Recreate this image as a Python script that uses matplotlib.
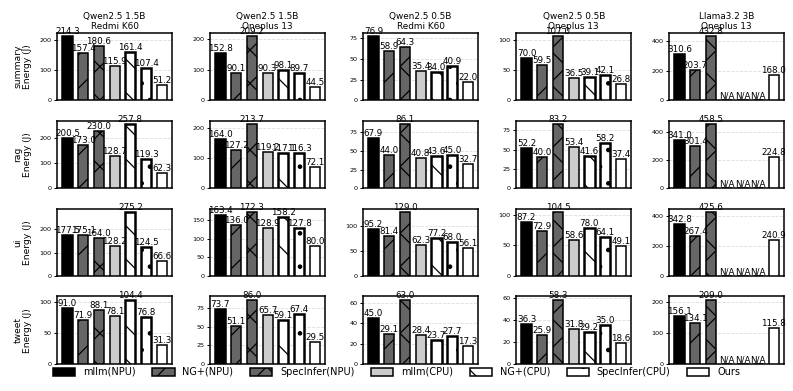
import matplotlib
matplotlib.use("Agg")
import matplotlib.pyplot as plt
import numpy as np
from matplotlib.patches import Patch
from matplotlib.ticker import MaxNLocator

methods = ["mllm(NPU)", "NG+(NPU)", "SpecInfer(NPU)", "mllm(CPU)", "NG+(CPU)", "SpecInfer(CPU)", "Ours"]
colors = ["#000000", "#666666", "#666666", "#cccccc", "#ffffff", "#ffffff", "#ffffff"]
hatches = ["", "/", "x", "", "\\", ".", ""]

col_titles = ["Qwen2.5 1.5B\nRedmi K60", "Qwen2.5 1.5B\nOneplus 13", "Qwen2.5 0.5B\nRedmi K60",
              "Qwen2.5 0.5B\nOneplus 13", "Llama3.2 3B\nOneplus 13"]
row_names = ["summary", "rag", "ui", "tweet"]

NA = None
summary = [
    [214.3, 157.4, 180.6, 115.9, 161.4, 107.4, 51.2],
    [152.8, 90.1, 209.2, 90.3, 98.1, 89.7, 44.5],
    [76.9, 58.9, 64.3, 35.4, 34.0, 40.9, 22.0],
    [70.0, 59.5, 107.0, 36.5, 39.1, 42.1, 26.8],
    [310.6, 203.7, 432.8, NA, NA, NA, 168.0],
]
rag = [
    [200.5, 173.0, 230.0, 128.7, 257.8, 119.3, 62.3],
    [164.0, 127.2, 213.7, 119.2, 117.1, 116.3, 72.1],
    [67.9, 44.0, 86.1, 40.8, 43.6, 45.0, 32.7],
    [52.2, 40.0, 83.2, 53.4, 41.6, 58.2, 37.4],
    [341.0, 301.4, 458.5, NA, NA, NA, 224.8],
]
ui = [
    [177.5, 175.1, 164.0, 128.2, 275.2, 124.5, 66.6],
    [163.4, 136.0, 172.3, 128.9, 158.2, 127.8, 80.0],
    [95.2, 81.4, 129.0, 62.3, 77.2, 68.0, 56.1],
    [87.2, 72.9, 104.5, 58.6, 78.0, 64.1, 49.1],
    [342.8, 267.4, 425.6, NA, NA, NA, 240.9],
]
tweet = [
    [91.0, 71.9, 88.1, 78.1, 104.4, 76.8, 31.3],
    [73.7, 51.1, 86.0, 65.7, 59.1, 67.4, 29.5],
    [45.0, 29.1, 63.0, 28.4, 23.7, 27.7, 17.3],
    [36.3, 25.9, 58.3, 31.8, 29.2, 35.0, 18.6],
    [156.1, 134.1, 209.0, NA, NA, NA, 115.8],
]
data = [summary, rag, ui, tweet]

plt.rcParams["hatch.linewidth"] = 0.9
fig, axes = plt.subplots(4, 5, figsize=(7.93, 3.91), dpi=100)
fig.subplots_adjust(left=0.072, right=0.989, top=0.916, bottom=0.069, wspace=0.33, hspace=0.30)

x = np.arange(len(methods))
for r in range(4):
    for c in range(5):
        ax = axes[r, c]
        vals = data[r][c]
        for i, v in enumerate(vals):
            lw = 1.8 if colors[i] == "#ffffff" and hatches[i] else 1.1
            if v is not None:
                ax.bar(x[i], v, width=0.65, color=colors[i], edgecolor="black",
                       hatch=hatches[i], linewidth=lw, zorder=3)
                ax.text(x[i], v, f"{v:.1f}", ha="center", va="bottom", fontsize=6.3, zorder=4)
            else:
                ax.bar(x[i], 0, width=0.65, color=colors[i], edgecolor="black", linewidth=lw, zorder=3)
                ax.text(x[i], 0, "N/A", ha="center", va="bottom", fontsize=6.3, zorder=4)
        ax.set_xticks([])
        ax.yaxis.set_major_locator(MaxNLocator(nbins=4, steps=[1, 2, 2.5, 5, 10]))
        ax.tick_params(axis="y", labelsize=4.6, length=2.5, width=0.7, pad=1.5)
        ax.grid(axis="y", color="#dddddd", linestyle="--", linewidth=0.6, zorder=0)
        for s in ax.spines.values():
            s.set_linewidth(1.1)
        if r == 0:
            ax.set_title(col_titles[c], fontsize=6.4, pad=3, linespacing=1.15)
        if c == 0:
            ax.set_ylabel(f"{row_names[r]}\nEnergy (J)", fontsize=6.6, labelpad=5, linespacing=1.15)

handles = [Patch(facecolor=colors[i], edgecolor="black", hatch=hatches[i], linewidth=1.1)
           for i in range(len(methods))]
fig.legend(handles, methods, loc="center", bbox_to_anchor=(0.5, 19 / 391), ncol=7,
           frameon=False, fontsize=7.0, handlelength=2.3, handleheight=0.9, columnspacing=1.7,
           handletextpad=0.8, borderpad=0.2)

fig.savefig("out.png", dpi=100)
